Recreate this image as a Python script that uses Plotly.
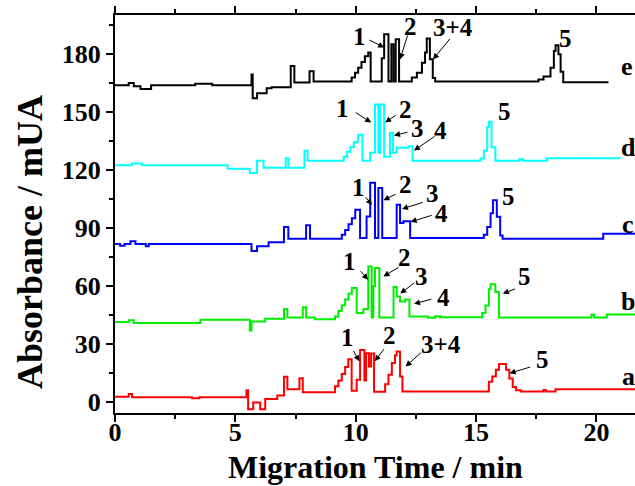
import plotly.graph_objects as go

# ---------------- data (Migration time in min, absorbance in mUA, offset traces) -------------
a_x = [0, 0.57, 0.71, 3.2, 3.5, 5.46, 5.53, 5.74, 6.03, 6.24, 6.74, 7.02, 7.16, 7.66, 7.8,
       9.14, 9.28, 9.42, 9.56, 9.69, 9.83, 10.04, 10.18, 10.36, 10.43, 10.55, 10.64, 10.76,
       11.22, 11.36, 11.5, 11.63, 11.7, 11.84, 11.94, 15.53, 15.67, 15.82, 15.95, 16.24,
       16.38, 16.52, 16.66, 16.85, 17.8, 17.9, 18.3, 21.7]
a_y = [2.5, 4.0, 2.3, 1.8, 2.3, 5.9, -3.9, -0.4, -3.9, 1.4, 3.2, 12.9, 6.4, 12.1, 4.9,
       8.0, 11.0, 14.3, 18.0, 22.0, 5.7, 11.3, 26.8, 11.0, 25.1, 18.2, 25.0, 5.2,
       9.0, 14.0, 20.0, 24.0, 26.0, 13.0, 5.3, 10.3, 13.0, 16.5, 19.5, 16.5,
       12.0, 7.6, 5.9, 5.3, 6.0, 5.3, 6.4, 6.4]

b_x = [0, 0.57, 0.78, 3.55, 5.6, 5.67, 6.24, 7.02, 7.16, 7.8, 7.94, 8.3,
       9.14, 9.28, 9.42, 9.56, 9.7, 9.84, 10.04, 10.32, 10.52, 10.66, 10.73, 10.8, 10.98,
       11.57, 11.7, 11.84, 12.05, 12.23, 13.0, 13.3, 13.5, 15.25, 15.39, 15.53, 15.6,
       15.8, 15.95, 19.79, 19.9, 20.43, 21.7]
b_y = [41.3, 42.2, 40.8, 42.5, 36.9, 41.6, 43.0, 48.0, 43.6, 48.9, 43.6, 42.7,
       44.1, 47.0, 50.0, 53.0, 56.0, 58.9, 45.9, 48.0, 70.1, 43.6, 60.0, 69.3, 43.6,
       59.4, 54.5, 51.9, 53.0, 44.1, 43.5, 44.3, 43.8, 46.0, 49.8, 58.3, 60.8,
       56.9, 43.6, 45.0, 43.6, 45.2, 45.2]

c_x = [0, 0.21, 0.4, 0.64, 0.85, 1.28, 1.4, 5.67, 5.9, 6.38, 7.02, 7.2, 7.94, 8.1,
       9.42, 9.56, 9.7, 9.84, 9.98, 10.18, 10.45, 10.6, 10.8, 10.94, 11.1,
       11.7, 11.84, 11.98, 12.26, 15.32, 15.46, 15.6, 15.7, 15.86, 16.0, 16.1, 20.28, 21.7]
c_y = [81.7, 80.8, 81.7, 83.1, 81.7, 80.5, 81.7, 78.1, 80.5, 82.6, 90.5, 84.4, 91.4, 84.4,
       86.5, 89.0, 92.0, 95.0, 99.5, 84.8, 96.0, 113.4, 84.8, 110.8, 84.8,
       102.1, 92.6, 93.5, 84.8, 86.5, 90.5, 97.6, 104.4, 95.9, 86.1, 84.4, 87.0, 87.0]

d_x = [0, 0.71, 1.13, 4.68, 5.6, 5.9, 6.17, 7.09, 7.2, 7.87, 8.0,
       9.5, 9.64, 9.78, 9.92, 10.1, 10.28, 10.6, 10.8, 10.94, 11.01, 11.18,
       11.42, 11.55, 11.7, 12.2, 12.36, 15.18, 15.32, 15.46, 15.53, 15.64, 15.8,
       16.8, 16.95, 17.94, 21.0]
d_y = [122.5, 123.5, 122.5, 120.7, 118.5, 124.8, 121.2, 126.2, 121.2, 130.0, 124.8,
       127.0, 129.5, 132.0, 134.5, 138.4, 124.8, 129.0, 154.0, 129.0, 154.0, 127.0,
       139.4, 129.0, 131.6, 132.4, 124.8, 126.0, 130.0, 142.5, 145.1, 131.8, 124.8,
       125.6, 124.8, 126.2, 126.2]

e_x = [0, 0.57, 0.78, 1.06, 1.5, 3.33, 4.04, 5.67, 5.72, 5.9, 6.3, 6.5, 7.3, 7.45,
       8.08, 8.25, 9.83, 9.97, 10.1, 10.24, 10.38, 10.52, 10.62, 11.08, 11.18, 11.36,
       11.48, 11.57, 11.66, 11.8, 12.33, 12.54, 12.75, 12.88, 12.95, 13.08, 13.2, 13.3,
       17.59, 17.8, 18.09, 18.23, 18.3, 18.42, 18.51, 18.62, 20.5]
e_y = [164.0, 165.2, 163.5, 162.0, 164.0, 164.8, 164.0, 169.6, 157.2, 159.8, 162.5, 163.0,
       174.0, 165.4, 171.3, 166.0, 168.0, 170.5, 173.0, 176.0, 179.0, 181.0, 166.0, 178.0,
       190.4, 166.0, 185.2, 166.0, 187.8, 166.0, 168.0, 170.5, 175.7, 181.0, 188.2, 177.5,
       167.8, 166.0, 167.0, 168.5, 173.0, 181.8, 184.7, 180.0, 171.0, 165.5, 165.5]

trace_names = ["a", "b", "c", "d", "e"]
trace_colors = ["#ff0000", "#00ee00", "#0000ff", "#00ffff", "#000000"]

x_ticks = [0, 5, 10, 15, 20]
y_ticks = [0, 30, 60, 90, 120, 150, 180]

# peak labels: (text, x, y)
peak_labels = [
    ("1", 10.14, 189.4), ("2", 12.28, 194.4), ("3+4", 14.04, 193.8), ("5", 18.7, 188.2),
    ("1", 9.45, 152.2), ("2", 12.07, 151.5), ("3", 12.56, 141.6), ("4", 13.54, 140.7), ("5", 16.18, 150.4),
    ("1", 10.1, 111.0), ("2", 12.05, 112.5), ("3", 13.2, 108.0), ("4", 13.55, 97.5), ("5", 16.33, 106.3),
    ("1", 9.76, 72.5), ("2", 12.03, 74.9), ("3", 12.75, 64.9), ("4", 13.63, 54.2), ("5", 17.03, 64.9),
    ("1", 9.64, 33.1), ("2", 11.42, 34.4), ("3+4", 13.54, 29.8), ("5", 17.74, 21.8),
]
# arrows: (tail x, tail y, head x, head y)
arrows = [
    (10.51, 187.8, 11.18, 183.6), (12.17, 190.5, 11.84, 177.4), (13.96, 188.8, 13.21, 177.4),
    (9.93, 150.4, 10.64, 144.7), (11.72, 148.9, 11.22, 144.7), (12.21, 139.8, 11.59, 138.0),
    (13.34, 138.0, 12.42, 130.2),
    (10.35, 106.8, 10.68, 102.1), (11.72, 107.9, 11.15, 104.4), (12.84, 103.5, 11.92, 99.9),
    (13.22, 96.8, 12.28, 93.2),
    (10.15, 68.4, 10.51, 63.2), (11.84, 70.1, 11.15, 64.9), (12.49, 62.1, 11.85, 56.0),
    (13.2, 53.3, 12.42, 50.7), (16.68, 58.7, 16.11, 56.0),
    (9.87, 27.1, 10.15, 20.9), (11.22, 28.0, 10.79, 20.9), (12.78, 26.2, 12.07, 18.2),
    (17.31, 18.2, 16.39, 14.7),
]
# trace letters: (text, x, y)
trace_letters = [("e", 21.27, 173.8), ("d", 21.31, 131.7), ("c", 21.31, 91.7),
                 ("b", 21.31, 51.8), ("a", 21.31, 12.9)]

# ---------------- figure -------------
FONT = "Liberation Serif"
fig = go.Figure()
series = [(a_x, a_y), (b_x, b_y), (c_x, c_y), (d_x, d_y), (e_x, e_y)]
for (xs, ys), name, col in zip(series, trace_names, trace_colors):
    fig.add_trace(go.Scatter(x=xs, y=ys, mode="lines", name=name,
                             line=dict(color=col, width=2, shape="hv"),
                             showlegend=False, hoverinfo="skip"))

ann = []
for t, x, y in peak_labels:
    ann.append(dict(x=x, y=y, xref="x", yref="y", text="<b>%s</b>" % t, showarrow=False,
                    font=dict(family=FONT, size=25, color="black")))
for tx, ty, hx, hy in arrows:
    ann.append(dict(x=hx, y=hy, ax=tx, ay=ty, xref="x", yref="y", axref="x", ayref="y",
                    text="", showarrow=True, arrowhead=2, arrowsize=1.2, arrowwidth=1,
                    arrowcolor="black", standoff=0, startstandoff=0))
for t, x, y in trace_letters:
    ann.append(dict(x=x, y=y, xref="x", yref="y", text="<b>%s</b>" % t, showarrow=False,
                    font=dict(family=FONT, size=26, color="black")))
# axis titles
ann.append(dict(x=0.5, y=-0.135, xref="paper", yref="paper", xanchor="center", yanchor="middle",
                text="<b>Migration Time / min</b>", showarrow=False,
                font=dict(family=FONT, size=32, color="black")))
ann.append(dict(x=-0.163, y=0.43, xref="paper", yref="paper", xanchor="center", yanchor="middle",
                textangle=-90, text="<b>Absorbance / mUA</b>", showarrow=False,
                font=dict(family=FONT, size=36, color="black")))

fig.update_layout(
    template="none",
    width=635, height=486,
    margin=dict(l=115, r=0, t=15, b=73, autoexpand=False),
    paper_bgcolor="white", plot_bgcolor="white",
    annotations=ann,
    font=dict(family=FONT, color="black"),
)
fig.update_xaxes(range=[0, 21.6], tickvals=x_ticks, ticktext=["<b>%d</b>" % v for v in x_ticks],
                 ticks="outside", ticklen=7, tickwidth=2, tickcolor="black",
                 showline=True, linewidth=2, linecolor="black", mirror="ticks",
                 showgrid=False, zeroline=False, automargin=False, ticklabelstandoff=-12,
                 tickfont=dict(family=FONT, size=26, color="black"),
                 minor=dict(dtick=2.5, tick0=0, ticks="outside", ticklen=4, tickwidth=2,
                            tickcolor="black", showgrid=False))
fig.update_yaxes(range=[-5.87, 200.4], tickvals=y_ticks, ticktext=["<b>%d</b>" % v for v in y_ticks],
                 ticks="outside", ticklen=7, tickwidth=2, tickcolor="black",
                 showline=True, linewidth=2, linecolor="black", mirror=False,
                 showgrid=False, zeroline=False, automargin=False,
                 tickfont=dict(family=FONT, size=26, color="black"),
                 minor=dict(dtick=15, tick0=0, ticks="outside", ticklen=4, tickwidth=2,
                            tickcolor="black", showgrid=False))

fig.write_html("out.html", config={"displayModeBar": False},
               post_script="document.body.style.margin='0px';document.body.style.overflow='hidden';")
